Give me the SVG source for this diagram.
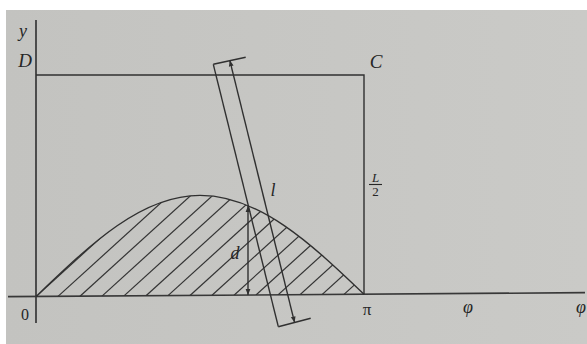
<svg xmlns="http://www.w3.org/2000/svg" width="587" height="344" viewBox="0 0 587 344">
<style>
.ln{stroke:#303030;stroke-width:1.4;fill:none}
.ax{stroke:#383838;stroke-width:1.7;fill:none}
.ht{stroke:#333;stroke-width:1.2;fill:none}
.t{font-family:"Liberation Serif","DejaVu Serif",serif;fill:#262626;font-style:italic}
.u{font-family:"Liberation Serif","DejaVu Serif",serif;fill:#262626}
</style>
<defs>
<marker id="ar" viewBox="0 0 10 10" refX="10" refY="5" markerWidth="6" markerHeight="6" markerUnits="userSpaceOnUse" orient="auto-start-reverse">
<path d="M0,1 L10,5 L0,9 z" fill="#303030"/>
</marker>
<clipPath id="cp">
<path d="M36,296.5 C89.5,245.3 140.6,195.4 200,195.4 C259.4,195.4 310.5,243 364,294.2 Z"/>
</clipPath>
<linearGradient id="bg" x1="0" y1="0" x2="1" y2="0">
<stop offset="0" stop-color="#c3c3c0"/>
<stop offset="1" stop-color="#cacac7"/>
</linearGradient>
</defs>
<rect x="0" y="0" width="587" height="344" fill="#ffffff"/>
<rect x="6" y="10" width="581" height="334" fill="url(#bg)"/>

<g id="axes">
<line class="ax" x1="36" y1="20" x2="36" y2="323"/>
<line class="ax" x1="8" y1="296.7" x2="585" y2="292.7"/>
</g>

<g id="box">
<polyline class="ln" points="36,75 364,75 364,294.2"/>
</g>

<g id="curve">
<g clip-path="url(#cp)">
<g class="ht">
<line x1="36" y1="296.5" x2="157" y2="186.5"/>
<line x1="58" y1="296.4" x2="179" y2="186.4"/>
<line x1="80" y1="296.2" x2="201" y2="186.2"/>
<line x1="102" y1="296.1" x2="223" y2="186.1"/>
<line x1="124" y1="295.9" x2="245" y2="185.9"/>
<line x1="146" y1="295.8" x2="267" y2="185.8"/>
<line x1="168" y1="295.6" x2="289" y2="185.6"/>
<line x1="190" y1="295.5" x2="311" y2="185.5"/>
<line x1="212" y1="295.3" x2="333" y2="185.3"/>
<line x1="234" y1="295.2" x2="355" y2="185.2"/>
<line x1="256" y1="295" x2="377" y2="185"/>
<line x1="278" y1="294.9" x2="399" y2="184.9"/>
<line x1="300" y1="294.7" x2="421" y2="184.7"/>
<line x1="322" y1="294.6" x2="443" y2="184.6"/>
<line x1="344" y1="294.4" x2="465" y2="184.4"/>
</g>
</g>
<path class="ln" d="M36,296.5 C89.5,245.3 140.6,195.4 200,195.4 C259.4,195.4 310.5,243 364,294.2"/>
</g>

<g id="needle">
<line class="ln" x1="213.3" y1="64.3" x2="278.3" y2="326.7"/>
<line class="ln" x1="213.3" y1="64.3" x2="245.7" y2="57.2"/>
<line class="ln" x1="278.3" y1="326.7" x2="310.7" y2="318.3"/>
<line class="ln" x1="229.8" y1="60.3" x2="294.6" y2="322.6" marker-start="url(#ar)" marker-end="url(#ar)"/>
</g>

<g id="distance">
<line class="ln" x1="248" y1="206" x2="248" y2="295" marker-start="url(#ar)" marker-end="url(#ar)"/>
</g>

<g id="labels">
<text class="t" x="23" y="37" font-size="18" text-anchor="middle">y</text>
<text class="t" x="25" y="67" font-size="19" text-anchor="middle">D</text>
<text class="t" x="376" y="68" font-size="19" text-anchor="middle">C</text>
<text class="t" x="375.5" y="181.5" font-size="13" text-anchor="middle">L</text>
<line x1="369" y1="184.5" x2="382" y2="184.5" stroke="#262626" stroke-width="1.1"/>
<text class="u" x="375.5" y="195.5" font-size="13" text-anchor="middle">2</text>
<text class="t" x="273" y="196" font-size="18" text-anchor="middle">l</text>
<text class="t" x="235" y="259" font-size="18" text-anchor="middle">d</text>
<text class="u" x="25" y="320" font-size="16" text-anchor="middle">0</text>
<text class="u" x="367" y="315" font-size="17" text-anchor="middle">π</text>
<text class="t" x="468" y="313" font-size="18" text-anchor="middle">φ</text>
<text class="t" x="576" y="313" font-size="18">φ</text>
</g>
</svg>
